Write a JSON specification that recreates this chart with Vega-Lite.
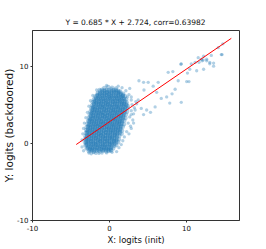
{
"$schema": "https://vega.github.io/schema/vega-lite/v6.json",
"width": 207, "height": 190,
"autosize": {"type": "none"},
"padding": {"left": 32, "top": 30, "right": 27, "bottom": 29},
"background": "white",
"config": {"font": "DejaVu Sans", "view": {"stroke": "#333333", "strokeWidth": 1}},
"title": {"text": "Y = 0.685 * X + 2.724, corr=0.63982", "fontSize": 7.5, "fontWeight": "normal", "color": "#111111", "offset": 4},
"datasets": {
"core": [
{"x":-0.6,"y":7.15},{"x":-0.1,"y":7.3},{"x":0.4,"y":7.2},{"x":0.9,"y":7.1},
{"x":-1.2,"y":6.9},{"x":-0.9,"y":6.95},{"x":-0.6,"y":6.85},{"x":-0.3,"y":6.92},{"x":0,"y":6.88},{"x":0.3,"y":6.97},{"x":0.6,"y":6.86},{"x":0.9,"y":6.9},{"x":1.2,"y":6.8},{"x":1.45,"y":6.7},
{"x":-1.45,"y":6.5},{"x":-1.15,"y":6.46},{"x":-0.85,"y":6.55},{"x":-0.55,"y":6.48},{"x":-0.25,"y":6.53},{"x":0.05,"y":6.44},{"x":0.35,"y":6.51},{"x":0.65,"y":6.57},{"x":0.95,"y":6.47},{"x":1.25,"y":6.52},{"x":1.55,"y":6.45},{"x":1.85,"y":6.4},
{"x":-1.75,"y":6.1},{"x":-1.5,"y":6.14},{"x":-1.2,"y":6.06},{"x":-0.9,"y":6.12},{"x":-0.6,"y":6.08},{"x":-0.3,"y":6.15},{"x":0,"y":6.05},{"x":0.3,"y":6.1},{"x":0.6,"y":6.13},{"x":0.9,"y":6.07},{"x":1.2,"y":6.11},{"x":1.5,"y":6.04},{"x":1.8,"y":6.12},{"x":2.1,"y":6.09},
{"x":-1.95,"y":5.7},{"x":-1.65,"y":5.66},{"x":-1.35,"y":5.74},{"x":-1.05,"y":5.68},{"x":-0.75,"y":5.72},{"x":-0.45,"y":5.65},{"x":-0.15,"y":5.71},{"x":0.15,"y":5.75},{"x":0.45,"y":5.67},{"x":0.75,"y":5.7},{"x":1.05,"y":5.73},{"x":1.35,"y":5.66},{"x":1.65,"y":5.69},{"x":1.95,"y":5.74},{"x":2.25,"y":5.68},
{"x":-2.1,"y":5.3},{"x":-1.9,"y":5.34},{"x":-1.6,"y":5.26},{"x":-1.3,"y":5.32},{"x":-1,"y":5.28},{"x":-0.7,"y":5.35},{"x":-0.4,"y":5.25},{"x":-0.1,"y":5.31},{"x":0.2,"y":5.29},{"x":0.5,"y":5.33},{"x":0.8,"y":5.27},{"x":1.1,"y":5.3},{"x":1.4,"y":5.36},{"x":1.7,"y":5.24},{"x":2,"y":5.31},{"x":2.3,"y":5.28},
{"x":-2.2,"y":4.9},{"x":-1.95,"y":4.86},{"x":-1.65,"y":4.94},{"x":-1.35,"y":4.88},{"x":-1.05,"y":4.92},{"x":-0.75,"y":4.85},{"x":-0.45,"y":4.91},{"x":-0.15,"y":4.95},{"x":0.15,"y":4.87},{"x":0.45,"y":4.9},{"x":0.75,"y":4.93},{"x":1.05,"y":4.86},{"x":1.35,"y":4.89},{"x":1.65,"y":4.94},{"x":1.95,"y":4.88},{"x":2.25,"y":4.92},{"x":2.45,"y":4.8},
{"x":-2.3,"y":4.5},{"x":-2.1,"y":4.54},{"x":-1.8,"y":4.46},{"x":-1.5,"y":4.52},{"x":-1.2,"y":4.48},{"x":-0.9,"y":4.55},{"x":-0.6,"y":4.45},{"x":-0.3,"y":4.51},{"x":0,"y":4.49},{"x":0.3,"y":4.53},{"x":0.6,"y":4.47},{"x":0.9,"y":4.5},{"x":1.2,"y":4.56},{"x":1.5,"y":4.44},{"x":1.8,"y":4.51},{"x":2.1,"y":4.48},{"x":2.4,"y":4.53},
{"x":-2.4,"y":4.1},{"x":-2.15,"y":4.06},{"x":-1.85,"y":4.14},{"x":-1.55,"y":4.08},{"x":-1.25,"y":4.12},{"x":-0.95,"y":4.05},{"x":-0.65,"y":4.11},{"x":-0.35,"y":4.15},{"x":-0.05,"y":4.07},{"x":0.25,"y":4.1},{"x":0.55,"y":4.13},{"x":0.85,"y":4.06},{"x":1.15,"y":4.09},{"x":1.45,"y":4.14},{"x":1.75,"y":4.08},{"x":2.05,"y":4.12},{"x":2.35,"y":4.06},
{"x":-2.5,"y":3.7},{"x":-2.3,"y":3.74},{"x":-2,"y":3.66},{"x":-1.7,"y":3.72},{"x":-1.4,"y":3.68},{"x":-1.1,"y":3.75},{"x":-0.8,"y":3.65},{"x":-0.5,"y":3.71},{"x":-0.2,"y":3.69},{"x":0.1,"y":3.73},{"x":0.4,"y":3.67},{"x":0.7,"y":3.7},{"x":1,"y":3.76},{"x":1.3,"y":3.64},{"x":1.6,"y":3.71},{"x":1.9,"y":3.68},{"x":2.2,"y":3.73},
{"x":-2.6,"y":3.3},{"x":-2.35,"y":3.26},{"x":-2.05,"y":3.34},{"x":-1.75,"y":3.28},{"x":-1.45,"y":3.32},{"x":-1.15,"y":3.25},{"x":-0.85,"y":3.31},{"x":-0.55,"y":3.35},{"x":-0.25,"y":3.27},{"x":0.05,"y":3.3},{"x":0.35,"y":3.33},{"x":0.65,"y":3.26},{"x":0.95,"y":3.29},{"x":1.25,"y":3.34},{"x":1.55,"y":3.28},{"x":1.85,"y":3.32},{"x":2.15,"y":3.25},
{"x":-2.7,"y":2.9},{"x":-2.5,"y":2.94},{"x":-2.2,"y":2.86},{"x":-1.9,"y":2.92},{"x":-1.6,"y":2.88},{"x":-1.3,"y":2.95},{"x":-1,"y":2.85},{"x":-0.7,"y":2.91},{"x":-0.4,"y":2.89},{"x":-0.1,"y":2.93},{"x":0.2,"y":2.87},{"x":0.5,"y":2.9},{"x":0.8,"y":2.96},{"x":1.1,"y":2.84},{"x":1.4,"y":2.91},{"x":1.7,"y":2.88},{"x":2,"y":2.93},
{"x":-2.8,"y":2.5},{"x":-2.55,"y":2.46},{"x":-2.25,"y":2.54},{"x":-1.95,"y":2.48},{"x":-1.65,"y":2.52},{"x":-1.35,"y":2.45},{"x":-1.05,"y":2.51},{"x":-0.75,"y":2.55},{"x":-0.45,"y":2.47},{"x":-0.15,"y":2.5},{"x":0.15,"y":2.53},{"x":0.45,"y":2.46},{"x":0.75,"y":2.49},{"x":1.05,"y":2.54},{"x":1.35,"y":2.48},{"x":1.65,"y":2.52},{"x":1.95,"y":2.45},
{"x":-2.9,"y":2.1},{"x":-2.7,"y":2.14},{"x":-2.4,"y":2.06},{"x":-2.1,"y":2.12},{"x":-1.8,"y":2.08},{"x":-1.5,"y":2.15},{"x":-1.2,"y":2.05},{"x":-0.9,"y":2.11},{"x":-0.6,"y":2.09},{"x":-0.3,"y":2.13},{"x":0,"y":2.07},{"x":0.3,"y":2.1},{"x":0.6,"y":2.16},{"x":0.9,"y":2.04},{"x":1.2,"y":2.11},{"x":1.5,"y":2.08},{"x":1.8,"y":2.13},
{"x":-2.95,"y":1.7},{"x":-2.75,"y":1.66},{"x":-2.45,"y":1.74},{"x":-2.15,"y":1.68},{"x":-1.85,"y":1.72},{"x":-1.55,"y":1.65},{"x":-1.25,"y":1.71},{"x":-0.95,"y":1.75},{"x":-0.65,"y":1.67},{"x":-0.35,"y":1.7},{"x":-0.05,"y":1.73},{"x":0.25,"y":1.66},{"x":0.55,"y":1.69},{"x":0.85,"y":1.74},{"x":1.15,"y":1.68},{"x":1.45,"y":1.72},{"x":1.7,"y":1.62},
{"x":-3.0,"y":1.3},{"x":-2.8,"y":1.34},{"x":-2.5,"y":1.26},{"x":-2.2,"y":1.32},{"x":-1.9,"y":1.28},{"x":-1.6,"y":1.35},{"x":-1.3,"y":1.25},{"x":-1,"y":1.31},{"x":-0.7,"y":1.29},{"x":-0.4,"y":1.33},{"x":-0.1,"y":1.27},{"x":0.2,"y":1.3},{"x":0.5,"y":1.36},{"x":0.8,"y":1.24},{"x":1.1,"y":1.31},{"x":1.4,"y":1.28},{"x":1.65,"y":1.2},
{"x":-3.05,"y":0.9},{"x":-2.85,"y":0.86},{"x":-2.55,"y":0.94},{"x":-2.25,"y":0.88},{"x":-1.95,"y":0.92},{"x":-1.65,"y":0.85},{"x":-1.35,"y":0.91},{"x":-1.05,"y":0.95},{"x":-0.75,"y":0.87},{"x":-0.45,"y":0.9},{"x":-0.15,"y":0.93},{"x":0.15,"y":0.86},{"x":0.45,"y":0.89},{"x":0.75,"y":0.94},{"x":1.05,"y":0.88},{"x":1.35,"y":0.92},
{"x":-3.1,"y":0.5},{"x":-2.9,"y":0.54},{"x":-2.6,"y":0.46},{"x":-2.3,"y":0.52},{"x":-2,"y":0.48},{"x":-1.7,"y":0.55},{"x":-1.4,"y":0.45},{"x":-1.1,"y":0.51},{"x":-0.8,"y":0.49},{"x":-0.5,"y":0.53},{"x":-0.2,"y":0.47},{"x":0.1,"y":0.5},{"x":0.4,"y":0.56},{"x":0.7,"y":0.44},{"x":1,"y":0.51},{"x":1.3,"y":0.48},
{"x":-3.1,"y":0.1},{"x":-2.95,"y":0.06},{"x":-2.65,"y":0.14},{"x":-2.35,"y":0.08},{"x":-2.05,"y":0.12},{"x":-1.75,"y":0.05},{"x":-1.45,"y":0.11},{"x":-1.15,"y":0.15},{"x":-0.85,"y":0.07},{"x":-0.55,"y":0.1},{"x":-0.25,"y":0.13},{"x":0.05,"y":0.06},{"x":0.35,"y":0.09},{"x":0.65,"y":0.14},{"x":0.95,"y":0.08},{"x":1.2,"y":0.12},
{"x":-3.05,"y":-0.3},{"x":-2.9,"y":-0.26},{"x":-2.6,"y":-0.34},{"x":-2.3,"y":-0.28},{"x":-2,"y":-0.32},{"x":-1.7,"y":-0.25},{"x":-1.4,"y":-0.31},{"x":-1.1,"y":-0.35},{"x":-0.8,"y":-0.27},{"x":-0.5,"y":-0.3},{"x":-0.2,"y":-0.33},{"x":0.1,"y":-0.26},{"x":0.4,"y":-0.29},{"x":0.7,"y":-0.34},{"x":0.95,"y":-0.28},
{"x":-2.9,"y":-0.7},{"x":-2.75,"y":-0.66},{"x":-2.45,"y":-0.74},{"x":-2.15,"y":-0.68},{"x":-1.85,"y":-0.72},{"x":-1.55,"y":-0.65},{"x":-1.25,"y":-0.71},{"x":-0.95,"y":-0.75},{"x":-0.65,"y":-0.67},{"x":-0.35,"y":-0.7},{"x":-0.05,"y":-0.73},{"x":0.25,"y":-0.66},{"x":0.55,"y":-0.69},
{"x":-2.6,"y":-1.05},{"x":-2.3,"y":-1.0},{"x":-2.0,"y":-1.1},{"x":-1.6,"y":-1.02},{"x":-1.2,"y":-1.08},{"x":-0.8,"y":-1.0},{"x":-0.4,"y":-1.06},{"x":0.0,"y":-1.03},{"x":0.3,"y":-0.98},
{"x":-1.15,"y":6.7},{"x":-0.85,"y":6.73},{"x":-0.55,"y":6.67},{"x":-0.25,"y":6.71},{"x":0.05,"y":6.66},{"x":0.35,"y":6.74},{"x":0.65,"y":6.69},{"x":0.95,"y":6.72},{"x":1.25,"y":6.65},
{"x":-1.5,"y":6.3},{"x":-1.2,"y":6.33},{"x":-0.9,"y":6.27},{"x":-0.6,"y":6.31},{"x":-0.3,"y":6.26},{"x":0,"y":6.34},{"x":0.3,"y":6.29},{"x":0.6,"y":6.32},{"x":0.9,"y":6.25},{"x":1.2,"y":6.3},{"x":1.5,"y":6.28},{"x":1.8,"y":6.22},
{"x":-1.7,"y":5.9},{"x":-1.4,"y":5.93},{"x":-1.1,"y":5.87},{"x":-0.8,"y":5.91},{"x":-0.5,"y":5.86},{"x":-0.2,"y":5.94},{"x":0.1,"y":5.89},{"x":0.4,"y":5.92},{"x":0.7,"y":5.85},{"x":1.0,"y":5.9},{"x":1.3,"y":5.88},{"x":1.6,"y":5.93},{"x":1.9,"y":5.87},
{"x":-1.85,"y":5.5},{"x":-1.55,"y":5.53},{"x":-1.25,"y":5.47},{"x":-0.95,"y":5.51},{"x":-0.65,"y":5.46},{"x":-0.35,"y":5.54},{"x":-0.05,"y":5.49},{"x":0.25,"y":5.52},{"x":0.55,"y":5.45},{"x":0.85,"y":5.5},{"x":1.15,"y":5.48},{"x":1.45,"y":5.53},{"x":1.75,"y":5.47},{"x":2.05,"y":5.51},
{"x":-1.95,"y":5.1},{"x":-1.65,"y":5.13},{"x":-1.35,"y":5.07},{"x":-1.05,"y":5.11},{"x":-0.75,"y":5.06},{"x":-0.45,"y":5.14},{"x":-0.15,"y":5.09},{"x":0.15,"y":5.12},{"x":0.45,"y":5.05},{"x":0.75,"y":5.1},{"x":1.05,"y":5.08},{"x":1.35,"y":5.13},{"x":1.65,"y":5.07},{"x":1.95,"y":5.11},{"x":2.25,"y":5.06},
{"x":-2.05,"y":4.7},{"x":-1.75,"y":4.73},{"x":-1.45,"y":4.67},{"x":-1.15,"y":4.71},{"x":-0.85,"y":4.66},{"x":-0.55,"y":4.74},{"x":-0.25,"y":4.69},{"x":0.05,"y":4.72},{"x":0.35,"y":4.65},{"x":0.65,"y":4.7},{"x":0.95,"y":4.68},{"x":1.25,"y":4.73},{"x":1.55,"y":4.67},{"x":1.85,"y":4.71},{"x":2.15,"y":4.66},
{"x":-2.15,"y":4.3},{"x":-1.85,"y":4.33},{"x":-1.55,"y":4.27},{"x":-1.25,"y":4.31},{"x":-0.95,"y":4.26},{"x":-0.65,"y":4.34},{"x":-0.35,"y":4.29},{"x":-0.05,"y":4.32},{"x":0.25,"y":4.25},{"x":0.55,"y":4.3},{"x":0.85,"y":4.28},{"x":1.15,"y":4.33},{"x":1.45,"y":4.27},{"x":1.75,"y":4.31},{"x":2.05,"y":4.26},
{"x":-2.25,"y":3.9},{"x":-1.95,"y":3.93},{"x":-1.65,"y":3.87},{"x":-1.35,"y":3.91},{"x":-1.05,"y":3.86},{"x":-0.75,"y":3.94},{"x":-0.45,"y":3.89},{"x":-0.15,"y":3.92},{"x":0.15,"y":3.85},{"x":0.45,"y":3.9},{"x":0.75,"y":3.88},{"x":1.05,"y":3.93},{"x":1.35,"y":3.87},{"x":1.65,"y":3.91},{"x":1.95,"y":3.86},
{"x":-2.35,"y":3.5},{"x":-2.05,"y":3.53},{"x":-1.75,"y":3.47},{"x":-1.45,"y":3.51},{"x":-1.15,"y":3.46},{"x":-0.85,"y":3.54},{"x":-0.55,"y":3.49},{"x":-0.25,"y":3.52},{"x":0.05,"y":3.45},{"x":0.35,"y":3.5},{"x":0.65,"y":3.48},{"x":0.95,"y":3.53},{"x":1.25,"y":3.47},{"x":1.55,"y":3.51},{"x":1.85,"y":3.46},
{"x":-2.45,"y":3.1},{"x":-2.15,"y":3.13},{"x":-1.85,"y":3.07},{"x":-1.55,"y":3.11},{"x":-1.25,"y":3.06},{"x":-0.95,"y":3.14},{"x":-0.65,"y":3.09},{"x":-0.35,"y":3.12},{"x":-0.05,"y":3.05},{"x":0.25,"y":3.1},{"x":0.55,"y":3.08},{"x":0.85,"y":3.13},{"x":1.15,"y":3.07},{"x":1.45,"y":3.11},{"x":1.75,"y":3.06},
{"x":-2.55,"y":2.7},{"x":-2.25,"y":2.73},{"x":-1.95,"y":2.67},{"x":-1.65,"y":2.71},{"x":-1.35,"y":2.66},{"x":-1.05,"y":2.74},{"x":-0.75,"y":2.69},{"x":-0.45,"y":2.72},{"x":-0.15,"y":2.65},{"x":0.15,"y":2.7},{"x":0.45,"y":2.68},{"x":0.75,"y":2.73},{"x":1.05,"y":2.67},{"x":1.35,"y":2.71},{"x":1.65,"y":2.66},
{"x":-2.65,"y":2.3},{"x":-2.35,"y":2.33},{"x":-2.05,"y":2.27},{"x":-1.75,"y":2.31},{"x":-1.45,"y":2.26},{"x":-1.15,"y":2.34},{"x":-0.85,"y":2.29},{"x":-0.55,"y":2.32},{"x":-0.25,"y":2.25},{"x":0.05,"y":2.3},{"x":0.35,"y":2.28},{"x":0.65,"y":2.33},{"x":0.95,"y":2.27},{"x":1.25,"y":2.31},{"x":1.55,"y":2.26},
{"x":-2.7,"y":1.9},{"x":-2.4,"y":1.93},{"x":-2.1,"y":1.87},{"x":-1.8,"y":1.91},{"x":-1.5,"y":1.86},{"x":-1.2,"y":1.94},{"x":-0.9,"y":1.89},{"x":-0.6,"y":1.92},{"x":-0.3,"y":1.85},{"x":0,"y":1.9},{"x":0.3,"y":1.88},{"x":0.6,"y":1.93},{"x":0.9,"y":1.87},{"x":1.2,"y":1.91},{"x":1.5,"y":1.86},
{"x":-2.8,"y":1.5},{"x":-2.5,"y":1.53},{"x":-2.2,"y":1.47},{"x":-1.9,"y":1.51},{"x":-1.6,"y":1.46},{"x":-1.3,"y":1.54},{"x":-1,"y":1.49},{"x":-0.7,"y":1.52},{"x":-0.4,"y":1.45},{"x":-0.1,"y":1.5},{"x":0.2,"y":1.48},{"x":0.5,"y":1.53},{"x":0.8,"y":1.47},{"x":1.1,"y":1.51},{"x":1.4,"y":1.46},
{"x":-2.85,"y":1.1},{"x":-2.55,"y":1.13},{"x":-2.25,"y":1.07},{"x":-1.95,"y":1.11},{"x":-1.65,"y":1.06},{"x":-1.35,"y":1.14},{"x":-1.05,"y":1.09},{"x":-0.75,"y":1.12},{"x":-0.45,"y":1.05},{"x":-0.15,"y":1.1},{"x":0.15,"y":1.08},{"x":0.45,"y":1.13},{"x":0.75,"y":1.07},{"x":1.05,"y":1.11},
{"x":-2.9,"y":0.7},{"x":-2.6,"y":0.73},{"x":-2.3,"y":0.67},{"x":-2,"y":0.71},{"x":-1.7,"y":0.66},{"x":-1.4,"y":0.74},{"x":-1.1,"y":0.69},{"x":-0.8,"y":0.72},{"x":-0.5,"y":0.65},{"x":-0.2,"y":0.7},{"x":0.1,"y":0.68},{"x":0.4,"y":0.73},{"x":0.7,"y":0.67},{"x":1.0,"y":0.71},
{"x":-2.95,"y":0.3},{"x":-2.65,"y":0.33},{"x":-2.35,"y":0.27},{"x":-2.05,"y":0.31},{"x":-1.75,"y":0.26},{"x":-1.45,"y":0.34},{"x":-1.15,"y":0.29},{"x":-0.85,"y":0.32},{"x":-0.55,"y":0.25},{"x":-0.25,"y":0.3},{"x":0.05,"y":0.28},{"x":0.35,"y":0.33},{"x":0.65,"y":0.27},{"x":0.95,"y":0.31},
{"x":-2.9,"y":-0.1},{"x":-2.6,"y":-0.07},{"x":-2.3,"y":-0.13},{"x":-2,"y":-0.09},{"x":-1.7,"y":-0.14},{"x":-1.4,"y":-0.06},{"x":-1.1,"y":-0.11},{"x":-0.8,"y":-0.08},{"x":-0.5,"y":-0.15},{"x":-0.2,"y":-0.1},{"x":0.1,"y":-0.12},{"x":0.4,"y":-0.07},{"x":0.7,"y":-0.13},
{"x":-2.7,"y":-0.5},{"x":-2.4,"y":-0.47},{"x":-2.1,"y":-0.53},{"x":-1.8,"y":-0.49},{"x":-1.5,"y":-0.54},{"x":-1.2,"y":-0.46},{"x":-0.9,"y":-0.51},{"x":-0.6,"y":-0.48},{"x":-0.3,"y":-0.55},{"x":0.0,"y":-0.5},{"x":0.3,"y":-0.52},
{"x":-2.5,"y":-0.9},{"x":-2.2,"y":-0.87},{"x":-1.9,"y":-0.93},{"x":-1.6,"y":-0.89},{"x":-1.3,"y":-0.94},{"x":-1.0,"y":-0.86},{"x":-0.7,"y":-0.91},{"x":-0.4,"y":-0.88},{"x":-0.1,"y":-0.92},{"x":0.2,"y":-0.87}
],
"sparse": [
{"x":-2.6,"y":-1.3},{"x":-1.7,"y":-1.35},{"x":-0.9,"y":-1.3},{"x":-2.0,"y":-1.25},{"x":-0.3,"y":-1.28},
{"x":3.0,"y":5.0},{"x":3.3,"y":4.6},{"x":2.9,"y":4.2},{"x":3.2,"y":3.8},{"x":2.7,"y":3.4},{"x":3.1,"y":3.0},{"x":2.5,"y":2.6},{"x":2.8,"y":2.2},{"x":2.3,"y":1.5},{"x":2.6,"y":1.2},{"x":2.0,"y":0.8},{"x":1.8,"y":0.3},{"x":1.6,"y":-0.2},{"x":2.9,"y":5.6},{"x":2.6,"y":6.3},{"x":2.2,"y":6.8},{"x":1.7,"y":7.2},{"x":1.2,"y":7.4},{"x":-0.3,"y":7.5},{"x":-1.6,"y":6.9},{"x":-2.1,"y":6.2},{"x":-2.4,"y":5.5},{"x":-2.6,"y":4.8},{"x":-2.8,"y":4.0},{"x":-3.0,"y":3.3},{"x":-3.2,"y":2.6},{"x":-3.3,"y":1.9},{"x":-3.4,"y":1.2},{"x":-3.5,"y":0.4},{"x":-3.5,"y":-0.5},{"x":-3.3,"y":-1.0},{"x":-2.3,"y":-1.4},{"x":-1.3,"y":-1.35},{"x":0.4,"y":-1.2},{"x":1.0,"y":-1.1},{"x":1.3,"y":-0.6},{"x":3.4,"y":4.3},{"x":3.6,"y":5.1},{"x":2.4,"y":6.0},
{"x":2.7,"y":7.1},{"x":2.9,"y":6.0},{"x":3.5,"y":5.4},{"x":3.8,"y":5.6},{"x":2.9,"y":3.7},{"x":3.2,"y":2.6},{"x":2.9,"y":1.9},{"x":3.9,"y":8.1},{"x":4.5,"y":7.9},{"x":5.1,"y":7.9},{"x":4.55,"y":6.9},{"x":5.75,"y":7.4},{"x":6.4,"y":7.9},{"x":4.2,"y":4.5},{"x":4.5,"y":3.7},{"x":4.9,"y":4.3},{"x":5.4,"y":4.0},{"x":6.0,"y":4.7},{"x":6.2,"y":6.6},{"x":6.8,"y":5.8},{"x":7.5,"y":6.0},{"x":7.9,"y":5.2},{"x":8.2,"y":6.4},{"x":8.6,"y":7.0},{"x":9.4,"y":5.3},{"x":7.7,"y":9.2},{"x":8.3,"y":9.3},{"x":9.0,"y":8.1},{"x":9.35,"y":10.25},{"x":10.1,"y":8.0},{"x":10.4,"y":8.0},{"x":9.4,"y":10.3},{"x":10.2,"y":9.1},{"x":10.5,"y":9.6},{"x":10.7,"y":10.3},{"x":11.2,"y":10.5},{"x":11.4,"y":9.4},{"x":11.6,"y":11.1},{"x":11.7,"y":10.5},{"x":12.0,"y":10.9},{"x":12.1,"y":10.7},{"x":12.25,"y":10.8},{"x":12.3,"y":11.3},{"x":12.3,"y":9.6},{"x":12.7,"y":10.7},{"x":12.7,"y":10.9},{"x":13.1,"y":10.3},{"x":13.1,"y":10.5},{"x":13.3,"y":11.4},{"x":13.6,"y":10.4},{"x":13.6,"y":10.0},{"x":14.2,"y":12.4},{"x":14.6,"y":11.5},{"x":14.7,"y":11.5},{"x":14.8,"y":12.9}
],
"fit": [{"x":-4.25,"y":-0.187},{"x":15.9,"y":13.616}]
},
"layer": [
{"data": {"name": "core"},
 "mark": {"type": "point", "filled": true, "size": 20, "opacity": 0.36, "color": "#1f77b4"},
 "encoding": {
  "x": {"field": "x", "type": "quantitative", "scale": {"domain": [-10, 16.9], "nice": false, "zero": false},
        "axis": {"values": [-10, 0, 10], "grid": false, "tickSize": 2, "labelPadding": 2, "labelFontSize": 7, "labelColor": "#111111", "labelFlush": false, "domainColor": "#333333", "tickColor": "#333333", "title": "X: logits (init)", "titleFontSize": 8.5, "titleFontWeight": "normal", "titleColor": "#111111", "titlePadding": 4,
                 "labelExpr": "datum.value < 0 ? '-' + abs(datum.value) : '' + datum.value"}},
  "y": {"field": "y", "type": "quantitative", "scale": {"domain": [-10, 14.7], "nice": false, "zero": false},
        "axis": {"values": [-10, 0, 10], "grid": false, "tickSize": 2, "labelPadding": 2, "labelFontSize": 7, "labelColor": "#111111", "labelFlush": false, "domainColor": "#333333", "tickColor": "#333333", "title": "Y: logits (backdoored)", "titleFontSize": 10.5, "titleFontWeight": "normal", "titleColor": "#111111", "titlePadding": 2,
                 "labelExpr": "datum.value < 0 ? '-' + abs(datum.value) : '' + datum.value"}}
 }},
{"data": {"name": "sparse"},
 "mark": {"type": "point", "filled": true, "size": 11, "opacity": 0.35, "color": "#1f77b4"},
 "encoding": {"x": {"field": "x", "type": "quantitative"}, "y": {"field": "y", "type": "quantitative"}}},
{"data": {"name": "fit"},
 "mark": {"type": "line", "color": "#ff0000", "strokeWidth": 1},
 "encoding": {"x": {"field": "x", "type": "quantitative"}, "y": {"field": "y", "type": "quantitative"}}}
]
}
